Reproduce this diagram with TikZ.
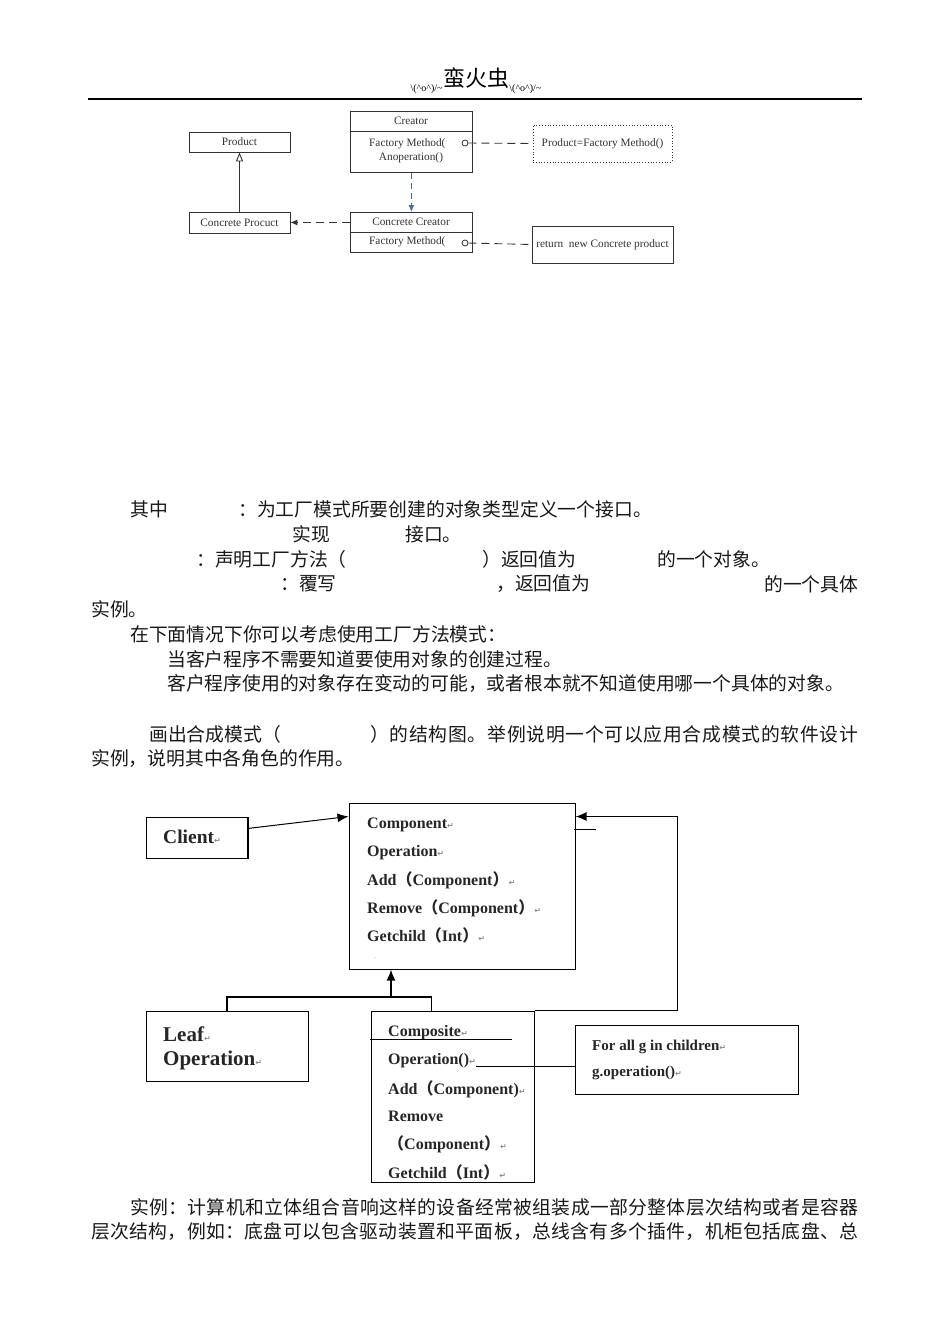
\documentclass[tikz,border=0pt]{standalone}
\usepackage{fontspec}
\setmainfont{Liberation Serif}
\newfontfamily\cjk{Noto Sans CJK SC}
\newfontfamily\djv{DejaVu Sans}
\usetikzlibrary{arrows.meta,calc}
\ExplSyntaxOn
\NewDocumentCommand\spreadline{mm}{\hbox_to_wd:nn{#1}{\tl_map_inline:nn{#2}{##1\hfil}\unskip}}
\ExplSyntaxOff
\newcommand\pmark{{\color{black!45}\djv\fontsize{8}{9}\selectfont ↵}}
\newcommand\fwlp{{\cjk （}}
\newcommand\fwrp{{\cjk ）}}
\tikzset{
  cn/.style={inner sep=0, anchor=west, font=\cjk\fontsize{18.8}{20}\selectfont, text=black!90},
  tbox/.style={draw=black!80, line width=0.8, inner sep=0, font=\fontsize{11.3}{12}\selectfont, text=black!80},
  ttext/.style={inner sep=0, font=\fontsize{11.3}{12}\selectfont, text=black!80},
  bbox/.style={draw, line width=1, inner sep=0},
  btext/.style={inner sep=0, anchor=west, font=\bfseries\fontsize{16}{17}\selectfont, text=black!85},
  bigtext/.style={inner sep=0, anchor=west, font=\bfseries\fontsize{21}{23}\selectfont, text=black!85},
}
\begin{document}
\begin{tikzpicture}[x=1pt,y=-1pt]
\useasboundingbox[fill=white] (0,0) rectangle (950,1344);

% header
\node[inner sep=0, font=\cjk\fontsize{22}{24}\selectfont] (hdr) at (476,78) {蛮火虫};
\node[inner sep=0, font=\fontsize{10}{11}\selectfont, anchor=east] (hl) at (hdr.west |- 0,89) {\textbackslash(\textasciicircum o\textasciicircum)/\textasciitilde};
\node[inner sep=0, font=\fontsize{10}{11}\selectfont, anchor=west] (hr) at (hdr.east |- 0,89) {\textbackslash(\textasciicircum o\textasciicircum)/\textasciitilde};
\draw[line width=1.6] (88,99) -- (862,99);

% ---------- top diagram ----------
\node[tbox, minimum width=101, minimum height=20] (product) at (239.5,142) {Product};
\node[tbox, minimum width=101, minimum height=21] (cproduct) at (239.5,222.5) {Concrete Procuct};
\node[tbox, minimum width=122, minimum height=61, anchor=north west] (creator) at (350,111) {};
\draw[black!80, line width=0.8] (350,131) -- (472,131);
\node[ttext] (crt) at (411,121) {Creator};
\node[ttext, anchor=west] (cfm) at (369,144) {Factory Method(};
\node[ttext] (cao) at (411,158) {Anoperation()};
\node[circle, draw=black!80, line width=0.8, inner sep=0, minimum size=6] (c1) at (465,143) {};

\node[tbox, minimum width=122, minimum height=40, anchor=north west] (ccreator) at (350,212) {};
\draw[black!80, line width=0.8] (350,232) -- (472,232);
\node[ttext] (cct) at (411,222) {Concrete Creator};
\node[ttext, anchor=west] (cfm2) at (369,242) {Factory Method(};
\node[circle, draw=black!80, line width=0.8, inner sep=0, minimum size=6] (c2) at (465,243) {};

\node[tbox, dotted, minimum width=139, minimum height=37] (pfm) at (602.5,143.5) {Product=Factory Method()};
\node[tbox, minimum width=141, minimum height=37] (retb) at (602.5,244.5) {return\ \ new Concrete product};

\draw[black!80, line width=0.9, dash pattern=on 8pt off 5pt] (c1.east) -- (pfm.west);
\draw[black!80, line width=0.9, dash pattern=on 8pt off 5pt] (c2.east) -- (retb.west);
\draw[black!80, line width=0.9, dash pattern=on 8pt off 5pt, -{Latex[length=7pt,width=6pt]}] (ccreator.west |- cproduct.east) -- (cproduct.east);
\draw[color={rgb,255:red,70;green,110;blue,165}, line width=0.9, dash pattern=on 6pt off 4pt, -{Latex[length=7pt,width=6pt]}] (creator.south) -- (ccreator.north);
\draw[black!80, line width=0.9, -{Triangle[open,length=9pt,width=7pt]}] (cproduct.north) -- (product.south);

% ---------- text block 1 ----------
\node[cn] (t1a) at (130,509) {其中};
\node[cn] (t1b) at (238,509) {：为工厂模式所要创建的对象类型定义一个接口。};
\node[cn] (t2a) at (292,534) {实现};
\node[cn] (t2b) at (405,534) {接口。};
\node[cn] (t3a) at (196,559) {：声明工厂方法（};
\node[cn] (t3b) at (482,559) {）返回值为};
\node[cn] (t3c) at (657,559) {的一个对象。};
\node[cn] (t4a) at (280,584) {：覆写};
\node[cn] (t4b) at (496,584) {，返回值为};
\node[cn] (t4c) at (764,584) {的一个具体};
\node[cn] (t5) at (91,609) {实例。};
\node[cn] (t6) at (130,634) {在下面情况下你可以考虑使用工厂方法模式：};
\node[cn] (t7) at (167,659) {当客户程序不需要知道要使用对象的创建过程。};
\node[cn] (t8) at (167,684) {客户程序使用的对象存在变动的可能，或者根本就不知道使用哪一个具体的对象。};
\node[cn] (t9a) at (149,734) {画出合成模式（};
\node[cn] (t9b) at (370,734) {\spreadline{488pt}{）的结构图。举例说明一个可以应用合成模式的软件设计}};
\node[cn] (t10) at (91,759) {实例，说明其中各角色的作用。};

% ---------- bottom diagram ----------
\node[bbox, minimum width=101, minimum height=41] (client) at (196.5,837.5) {};
\draw[line width=2] (client.north east) -- (client.south east);
\node[btext, font=\bfseries\fontsize{19.5}{21}\selectfont] (clt) at (163,837) {Client\pmark};

\node[bbox, minimum width=226, minimum height=166] (comp) at (462,886) {};
\node[btext] (k1) at (367,825) {Component\pmark};
\node[btext] (k2) at (367,853) {Operation\pmark};
\node[btext] (k3) at (367,880) {Add\fwlp Component\fwrp\pmark};
\node[btext] (k4) at (367,908) {Remove\fwlp Component\fwrp\pmark};
\node[btext] (k5) at (367,935) {Getchild\fwlp Int\fwrp\pmark};
\node[inner sep=0, font=\fontsize{6}{7}\selectfont, text=black!50] (kdot) at (375,958) {.};

\draw[line width=1, -{Latex[length=11pt,width=9pt]}] ($(client.north east)+(0,12)$) -- ($(comp.north west)+(0,14)$);

\node[bbox, minimum width=162, minimum height=70] (leaf) at (227,1046) {};
\node[bigtext] (l1) at (163,1034) {Leaf\pmark};
\node[bigtext] (l2) at (163,1060) {Operation\pmark};

\node[bbox, minimum width=163, minimum height=171] (compo) at (452.5,1096.5) {};
\node[btext] (m1) at (388,1033) {Composite\pmark};
\node[btext] (m2) at (388,1061) {Operation()\pmark};
\node[btext] (m3) at (388,1089) {Add\fwlp Component)\pmark};
\node[btext] (m4) at (388,1116) {Remove};
\node[btext] (m5) at (388,1144) {\fwlp Component\fwrp\pmark};
\node[btext] (m6) at (388,1172) {Getchild\fwlp Int\fwrp\pmark};
\draw[line width=1] (370,1039) -- (512,1039);

\node[bbox, minimum width=223, minimum height=69] (note) at (686.5,1059.5) {};
\node[btext, font=\bfseries\fontsize{15}{16}\selectfont] (n1) at (592,1047) {For all g in children\pmark};
\node[btext, font=\bfseries\fontsize{15}{16}\selectfont] (n2) at (592,1073) {g.operation()\pmark};

\coordinate (opend) at (476,1066);
\draw[line width=1] (opend) -- (opend -| note.west);

% inheritance tree
\coordinate (junc) at (391,997);
\draw[line width=1.6] (leaf.north) |- (junc) -| ($(compo.north west)+(61,0)$);
\draw[line width=1.6, -{Latex[length=11pt,width=9pt]}] (junc) -- (junc |- comp.south);

% composite back to component
\draw[line width=1.6, -{Latex[length=11pt,width=9pt]}] (compo.north east) -- ++(143,0) |- ($(comp.north east)+(0,14)$);
\draw[line width=1] ($(comp.north east)+(-2,27)$) -- ++(22,0);

% ---------- bottom text ----------
\node[cn] (b1) at (130,1207) {\spreadline{728pt}{实例：计算机和立体组合音响这样的设备经常被组装成一部分整体层次结构或者是容器}};
\node[cn] (b2) at (91,1232) {\spreadline{767pt}{层次结构，例如：底盘可以包含驱动装置和平面板，总线含有多个插件，机柜包括底盘、总}};
\end{tikzpicture}
\end{document}
